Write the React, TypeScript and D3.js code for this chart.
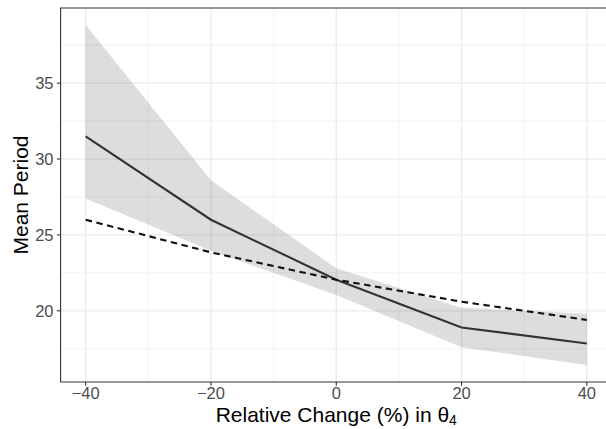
import React from 'react';
import * as d3 from 'd3';

const changes = [-40, -20, 0, 20, 40];
const meanSolid = [31.5, 26.0, 22.05, 18.9, 17.85];
const meanDashed = [26.0, 23.85, 22.05, 20.6, 19.4];
const bandUpper = [38.83, 28.6, 22.8, 20.2, 19.8];
const bandLower = [27.4, 23.95, 21.05, 17.6, 16.43];
const xTicks = [-40, -20, 0, 20, 40];
const xMinor = [-30, -10, 10, 30];
const yTicks = [20, 25, 30, 35];
const yMinor = [17.5, 22.5, 27.5, 32.5, 37.5];

const width = 606;
const height = 429;
const font = '"Liberation Sans", Arial, Helvetica, sans-serif';

export default function App() {
  const ref = React.useRef<SVGSVGElement>(null);

  React.useEffect(() => {
    const svg = d3.select(ref.current);
    svg.selectAll('*').remove();

    const left = 60.6;
    const top = 8;
    const bottom = 382;

    const xExt = d3.extent(changes) as [number, number];
    const xPad = (xExt[1] - xExt[0]) * 0.05;
    const x = d3
      .scaleLinear()
      .domain([xExt[0] - xPad, xExt[1] + xPad])
      .range([left, left + 125.3 * ((xExt[1] - xExt[0] + 2 * xPad) / 20)]);

    const allY = [...meanSolid, ...meanDashed, ...bandUpper, ...bandLower];
    const yMin = d3.min(allY)!;
    const yMax = d3.max(allY)!;
    const yPad = (yMax - yMin) * 0.05;
    const y = d3.scaleLinear().domain([yMin - yPad, yMax + yPad]).range([bottom, top]);

    const right = x.range()[1];
    const g = svg.append('g');

    // panel background
    g.append('rect')
      .attr('x', left)
      .attr('y', top)
      .attr('width', right - left)
      .attr('height', bottom - top)
      .attr('fill', 'white');

    // minor grid
    g.selectAll('.ymin')
      .data(yMinor)
      .join('line')
      .attr('x1', left)
      .attr('x2', right)
      .attr('y1', (d) => y(d))
      .attr('y2', (d) => y(d))
      .attr('stroke', '#EBEBEB')
      .attr('stroke-width', 0.7);
    g.selectAll('.xmin')
      .data(xMinor)
      .join('line')
      .attr('x1', (d) => x(d))
      .attr('x2', (d) => x(d))
      .attr('y1', top)
      .attr('y2', bottom)
      .attr('stroke', '#EBEBEB')
      .attr('stroke-width', 0.7);

    // major grid
    g.selectAll('.ymaj')
      .data(yTicks)
      .join('line')
      .attr('x1', left)
      .attr('x2', right)
      .attr('y1', (d) => y(d))
      .attr('y2', (d) => y(d))
      .attr('stroke', '#EBEBEB')
      .attr('stroke-width', 1.3);
    g.selectAll('.xmaj')
      .data(xTicks)
      .join('line')
      .attr('x1', (d) => x(d))
      .attr('x2', (d) => x(d))
      .attr('y1', top)
      .attr('y2', bottom)
      .attr('stroke', '#EBEBEB')
      .attr('stroke-width', 1.3);

    // ribbon
    const area = d3
      .area<number>()
      .x((d, i) => x(changes[i]))
      .y0((d, i) => y(bandLower[i]))
      .y1((d, i) => y(bandUpper[i]));
    g.append('path')
      .datum(changes)
      .attr('d', area)
      .attr('fill', 'black')
      .attr('fill-opacity', 0.135);

    const line = d3
      .line<number>()
      .x((d, i) => x(changes[i]));

    g.append('path')
      .datum(meanSolid)
      .attr('d', line.y((d) => y(d)))
      .attr('fill', 'none')
      .attr('stroke', '#333333')
      .attr('stroke-width', 2.1);

    g.append('path')
      .datum(meanDashed)
      .attr('d', line.y((d) => y(d)))
      .attr('fill', 'none')
      .attr('stroke', '#111111')
      .attr('stroke-width', 2.1)
      .attr('stroke-dasharray', '6.5,4.5');

    // panel border (top, left, bottom)
    g.append('path')
      .attr('d', `M${right},${top}H${left}V${bottom}H${right}`)
      .attr('fill', 'none')
      .attr('stroke', '#333333')
      .attr('stroke-width', 1.1);

    // ticks
    g.selectAll('.xt')
      .data(xTicks)
      .join('line')
      .attr('x1', (d) => x(d))
      .attr('x2', (d) => x(d))
      .attr('y1', bottom)
      .attr('y2', bottom + 3.7)
      .attr('stroke', '#333333')
      .attr('stroke-width', 1.1);
    g.selectAll('.yt')
      .data(yTicks)
      .join('line')
      .attr('x1', left - 3.7)
      .attr('x2', left)
      .attr('y1', (d) => y(d))
      .attr('y2', (d) => y(d))
      .attr('stroke', '#333333')
      .attr('stroke-width', 1.1);

    // tick labels
    g.selectAll('.xl')
      .data(xTicks)
      .join('text')
      .attr('x', (d) => x(d))
      .attr('y', 399)
      .attr('text-anchor', 'middle')
      .attr('font-family', font)
      .attr('font-size', 16.5)
      .attr('fill', '#4D4D4D')
      .text((d) => (d < 0 ? '\u2212' + Math.abs(d) : String(d)));
    g.selectAll('.yl')
      .data(yTicks)
      .join('text')
      .attr('x', 53.5)
      .attr('y', (d) => y(d) + 6)
      .attr('text-anchor', 'end')
      .attr('font-family', font)
      .attr('font-size', 16.5)
      .attr('fill', '#4D4D4D')
      .text((d) => String(d));

    // axis titles
    const xt = g
      .append('text')
      .attr('x', (left + right) / 2)
      .attr('y', 422)
      .attr('text-anchor', 'middle')
      .attr('font-family', font)
      .attr('font-size', 21)
      .attr('fill', 'black');
    xt.append('tspan').text('Relative Change (%) in \u03b8');
    xt.append('tspan').attr('font-size', 14).attr('dy', 3).text('4');

    g.append('text')
      .attr('transform', `translate(28,${(top + bottom) / 2}) rotate(-90)`)
      .attr('text-anchor', 'middle')
      .attr('font-family', font)
      .attr('font-size', 21)
      .attr('fill', 'black')
      .text('Mean Period');
  }, []);

  return (
    <svg
      ref={ref}
      width={width}
      height={height}
      style={{ position: 'absolute', left: 0, top: 0, background: 'white' }}
    />
  );
}
